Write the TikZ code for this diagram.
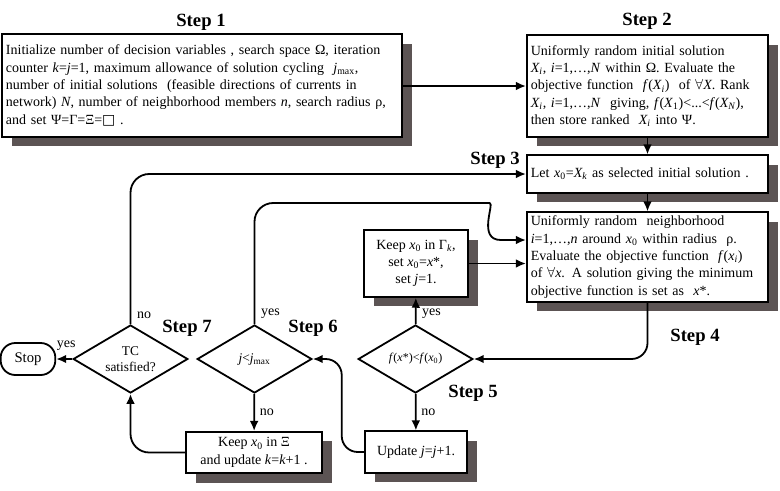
\documentclass[tikz,border=0pt]{standalone}
\usepackage{fontspec}
\setmainfont{Liberation Serif}
\newfontfamily\symfont{DejaVu Sans}
\usetikzlibrary{shapes.geometric,shadows,arrows.meta,calc}
\definecolor{shadowgray}{RGB}{92,84,84}
\newcommand{\vi}[1]{\textit{#1}}
\newcommand{\lo}[1]{\textsubscript{#1}}
\tikzset{
  stepbox/.style={draw, fill=white, inner xsep=3pt, inner ysep=2pt,
    drop shadow={shadow xshift=7.5pt, shadow yshift=-7pt, fill=shadowgray, opacity=1},
    font=\fontsize{10.5}{13}\selectfont},
  leftbox/.style={stepbox, align=left},
  midbox/.style={stepbox, align=center},
  decision/.style={diamond, draw, fill=white, aspect=1.7, inner sep=0pt,
    minimum width=86pt, minimum height=51pt, align=center,
    font=\fontsize{10}{12}\selectfont},
  stopbox/.style={draw, rounded corners=11pt, minimum width=41pt, minimum height=24pt,
    font=\fontsize{11}{13}\selectfont},
  steplabel/.style={font=\fontsize{14}{16}\selectfont\bfseries},
  yesno/.style={font=\fontsize{10.5}{12}\selectfont, inner sep=2pt},
  flow/.style={->}
}
\begin{document}
\begin{tikzpicture}[x=0.75pt, y=-0.75pt, line width=1.35pt,
  >={Latex[length=7.5pt,width=6.5pt]}]
  \useasboundingbox (0,0) rectangle (780,490);

  % titles
  \node[steplabel] (t1) at (201,22) {Step 1};
  \node[steplabel] (t2) at (647,21) {Step 2};
  \node[steplabel] (t3) at (495,160) {Step 3};
  \node[steplabel] (t4) at (695,337) {Step 4};
  \node[steplabel] (t5) at (473,393) {Step 5};
  \node[steplabel] (t6) at (313,328) {Step 6};
  \node[steplabel] (t7) at (187,328) {Step 7};

  % boxes
  \node[leftbox, text width=294pt, minimum height=77pt] (s1) at (202,85.5)
    {Initialize number of decision variables , search space Ω, iteration\\
     counter \vi{k}=\vi{j}=1, maximum allowance of solution cycling \ \vi{j}\lo{max},\\
     number of initial solutions \ (feasible directions of currents in\\
     network) \vi{N}, number of neighborhood members \vi{n}, search radius ρ,\\
     and set Ψ=Γ=Ξ={\symfont □} .};
  \node[leftbox, text width=175pt, minimum height=76pt] (s2) at (647.5,86)
    {Uniformly random initial solution\\
     \vi{X\lo{i}}, \vi{i}=1,…,\vi{N} within Ω. Evaluate the\\
     objective function \ \vi{f}(\vi{X\lo{i}}) \ of $\forall$\vi{X}. Rank\\
     \vi{X\lo{i}}, \vi{i}=1,…,\vi{N} \ giving, \vi{f}(\vi{X}\lo{1})<...<\vi{f}(\vi{X\lo{N}}),\\
     then store ranked \ \vi{X\lo{i}} into Ψ.};
  \node[leftbox, text width=175pt, minimum height=28pt] (s3) at (647.5,174)
    {Let \vi{x}\lo{0}=\vi{X\lo{k}} as selected initial solution .};
  \node[leftbox, text width=175pt, minimum height=67pt] (s4) at (647.5,257)
    {Uniformly random \ neighborhood\\
     \vi{i}=1,…,\vi{n} around \vi{x}\lo{0} within radius \ ρ.\\
     Evaluate the objective function \ \vi{f}(\vi{x\lo{i}})\\
     of $\forall$\vi{x}. A solution giving the minimum\\
     objective function is set as \ \vi{x}*.};
  \node[midbox, minimum width=78pt, minimum height=50pt] (keepG) at (416,263.5)
    {Keep \vi{x}\lo{0} in Γ\lo{\vi{k}},\\ set \vi{x}\lo{0}=\vi{x}*,\\ set \vi{j}=1.};
  \node[midbox, minimum width=77pt, minimum height=31pt] (upd) at (416,452)
    {Update \vi{j}=\vi{j}+1.};
  \node[midbox, minimum width=102pt, minimum height=31pt] (keepX) at (254,452.5)
    {Keep \vi{x}\lo{0} in Ξ\\ and update \vi{k}=\vi{k}+1 .};

  % decisions
  \node[decision] (d5) at (415.5,359) {\fontsize{9}{11}\selectfont\vi{f}(\vi{x}*)<\vi{f}(\vi{x}\lo{0})};
  \node[decision] (d6) at (254.5,359) {\vi{j}<\vi{j}\lo{max}};
  \node[decision] (d7) at (130.5,359) {TC\\satisfied?};
  \node[stopbox] (stop) at (28,359) {Stop};

  % connectors
  \draw[flow] (s1.east |- s2.west) -- (s2.west);
  \draw[flow] (s2) -- (s3);
  \draw[flow] (s3) -- (s4);
  \draw[flow, rounded corners=12pt] (s4.south) |- (d5.east);
  \draw[flow] (d5) -- (keepG);
  \draw[flow] (keepG.east) -- (keepG.east -| s4.west);
  \draw[flow] (d5) -- (upd);
  \draw[flow, rounded corners=12pt] (upd.west) -| ($(d6.east)+(29,0)$) -- (d6.east);
  \draw[flow] (d6.north) [rounded corners=14pt] |- ($(s4.west)+(-55,-54)$)
    [sharp corners] .. controls +(24,0) and +(-24,0) .. ($(s4.west)+(-25,-17)$)
    -- ($(s4.west)+(0,-17)$);
  \draw[flow] (d6) -- (keepX);
  \draw[flow, rounded corners=14pt] (keepX.west) -| (d7.south);
  \draw[flow, rounded corners=14pt] (d7.north) |- (s3.west);
  \draw[flow] (d7) -- (stop);

  % yes / no
  \node[yesno, anchor=south west] (y5) at ($(d5.north)+(3,-2)$) {yes};
  \node[yesno, anchor=west] (n5) at ($(d5.south)!0.5!(upd.north)+(2,0)$) {no};
  \node[yesno, anchor=south west] (y6) at ($(d6.north)+(3,-2)$) {yes};
  \node[yesno, anchor=west] (n6) at ($(d6.south)!0.5!(keepX.north)+(2,0)$) {no};
  \node[yesno, anchor=south west] (n7) at ($(d7.north)+(3,-2)$) {no};
  \node[yesno, anchor=south] (y7) at ($(stop.east)!0.5!(d7.west)+(2,-5)$) {yes};
\end{tikzpicture}
\end{document}
